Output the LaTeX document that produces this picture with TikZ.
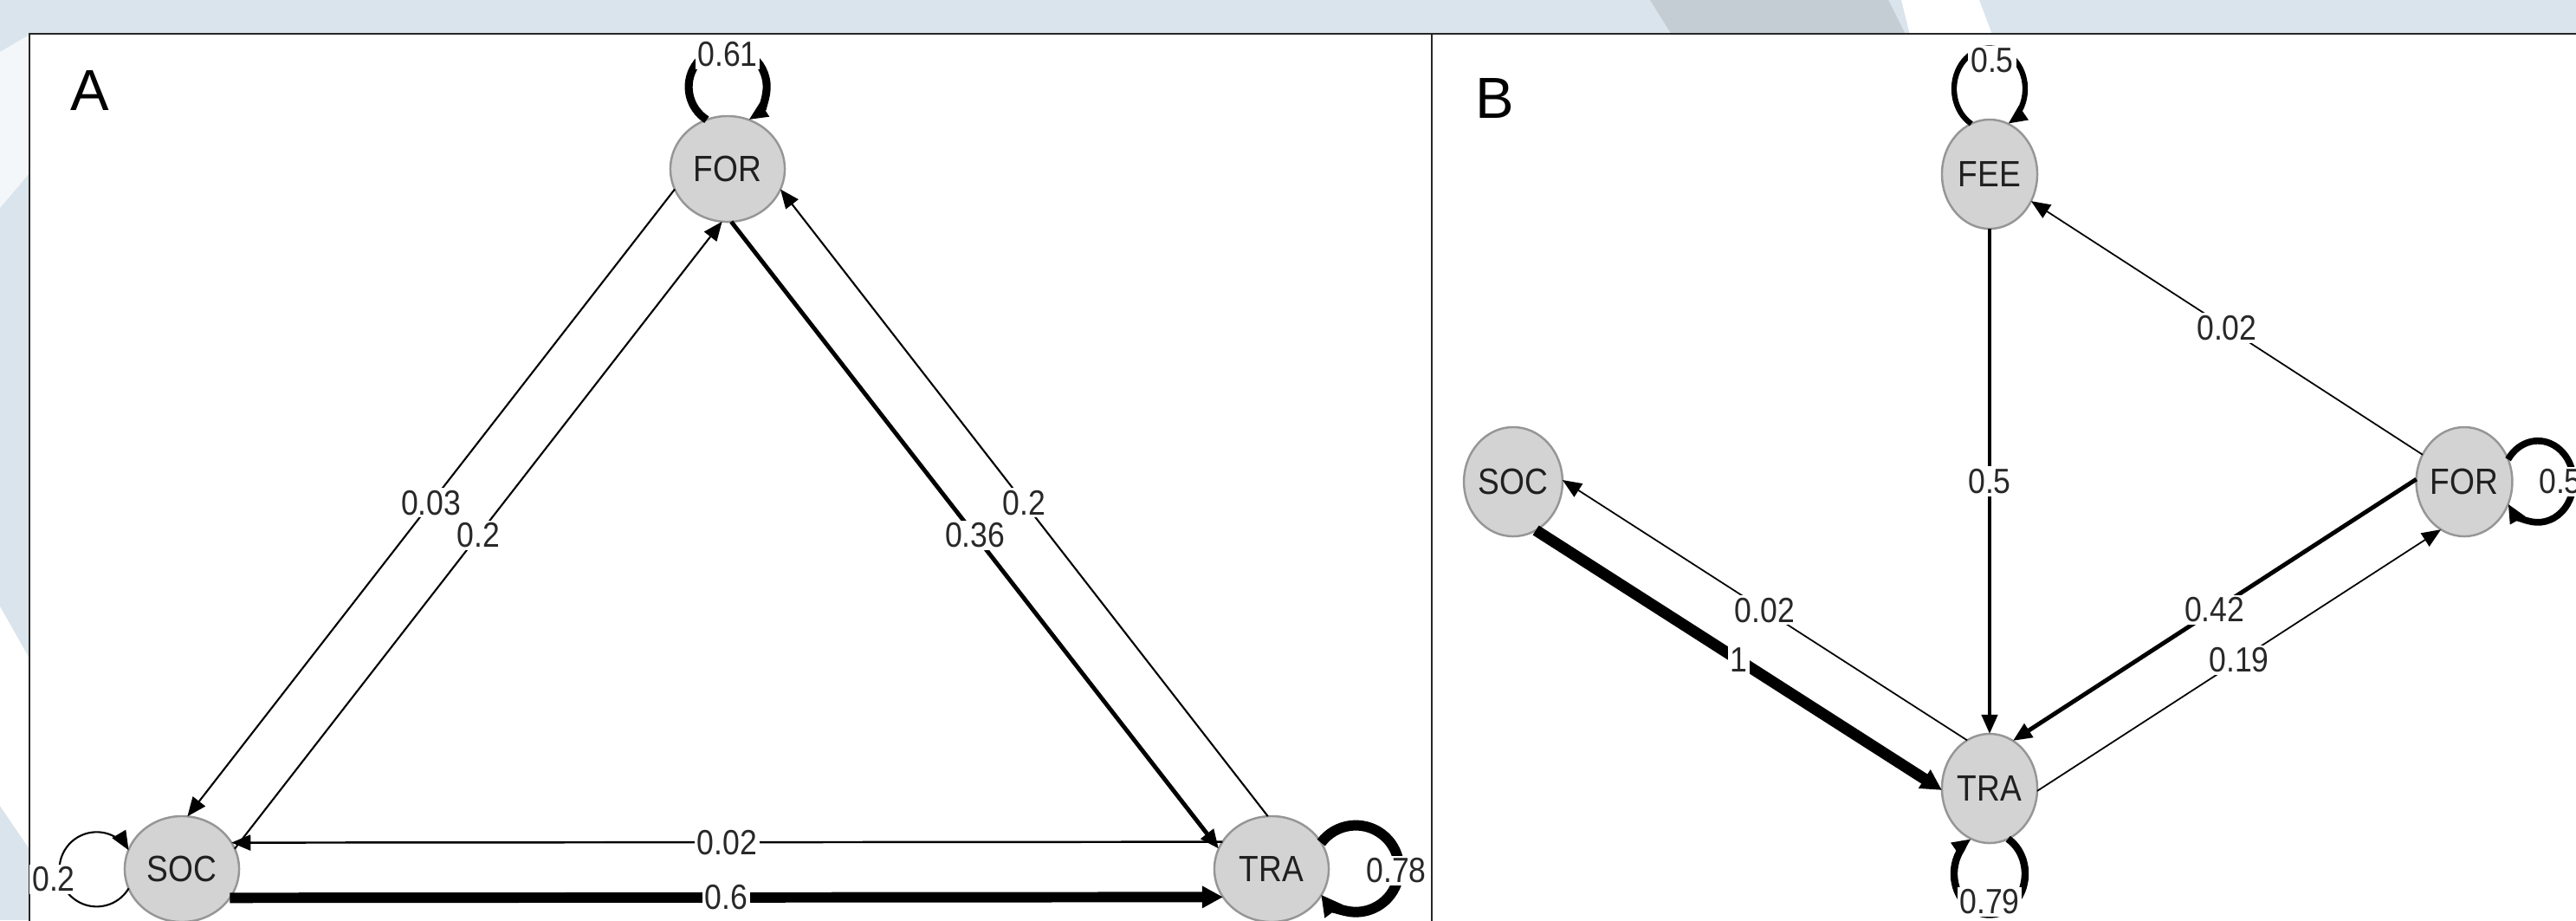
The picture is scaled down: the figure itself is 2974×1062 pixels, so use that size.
\documentclass[tikz,border=0pt]{standalone}
\usepackage{fontspec}
\setmainfont{Liberation Sans}
\newfontfamily\nfont[FakeStretch=0.88]{Liberation Sans}
\usetikzlibrary{arrows.meta,shapes.geometric}
\definecolor{bgblue}{RGB}{218,228,236}
\definecolor{bgdark}{RGB}{196,204,212}
\definecolor{nodefill}{RGB}{211,211,211}
\definecolor{nodeborder}{RGB}{150,150,150}
\definecolor{nodetext}{RGB}{32,32,32}
\definecolor{labeltext}{RGB}{40,40,40}
\tikzset{
  vtx/.style={ellipse, draw=nodeborder, fill=nodefill, line width=0.7pt, inner sep=0pt, outer sep=0pt,
              font=\nfont\fontsize{12}{14}\selectfont, text=nodetext},
  vtxA/.style={vtx, minimum width=1.32cm, minimum height=1.22cm},
  vtxB/.style={vtx, minimum width=1.10cm, minimum height=1.26cm},
  lbl/.style={fill=white, inner sep=0.8pt, font=\nfont\fontsize{11.5}{13}\selectfont, text=labeltext},
  edg/.style={draw=black, -{Triangle[length=0.22cm, width=0.18cm]}},
  edgthick/.style={draw=black, -{Triangle[length=0.24cm, width=0.24cm]}},
  panellbl/.style={font=\fontsize{19}{22}\selectfont, text=black, inner sep=0pt},
  frame/.style={draw=black!85, line width=0.7pt}
}
\begin{document}
\begin{tikzpicture}[x=0.01cm, y=0.01cm]
\useasboundingbox (0,0) rectangle (2974,-1062);
\clip (0,0) rectangle (2974,-1062);
% background
\fill[bgblue] (0,0) rectangle (2974,-1062);
\fill[bgdark] (1905,0) -- (2180,0) -- (2200,-40) -- (1930,-40) -- cycle;
\fill[white] (2195,0) -- (2285,0) -- (2300,-40) -- (2205,-40) -- cycle;
\fill[white!70!bgblue] (0,-60) -- (34,-40) -- (34,-200) -- (0,-240) -- cycle;
\fill[white] (0,-700) -- (34,-760) -- (34,-980) -- (0,-930) -- cycle;
% panels
\fill[white] (34,-39) rectangle (1653,-1080);
\fill[white] (1653,-39) rectangle (3000,-1080);
\draw[frame] (34,-1080) -- (34,-39) -- (1653,-39) -- (1653,-1080);
\draw[frame] (1653,-39) -- (3000,-39);
\node[panellbl] (labA) at (104,-104) {A};
\node[panellbl] (labB) at (1726,-113) {B};

% ---------- Panel A ----------
\node[vtxA] (FORa) at (840,-195) {FOR};
\node[vtxA] (SOCa) at (210,-1003) {SOC};
\node[vtxA] (TRAa) at (1468,-1003) {TRA};

\draw[edg, line width=0.6pt] (FORa.201.7) -- node[lbl] (e1) {0.03} (SOCa.84.7);
\draw[edg, line width=0.6pt] (SOCa.21.7) -- node[lbl] (e2) {0.2} (FORa.264.7);
\draw[edg, line width=1.4pt] (FORa.274) -- node[lbl] (e3) {0.36} (TRAa.159.2);
\draw[edg, line width=0.6pt] (TRAa.94) -- node[lbl] (e4) {0.2} (FORa.339.2);
\draw[edg, line width=0.7pt] (TRAa.151.4) -- node[lbl] (e5) {0.02} (SOCa.28.6);
\draw[edgthick, line width=3.4pt] (SOCa.329.3) -- node[lbl] (e6) {0.6} (TRAa.210.7);

\draw[edg, line width=2.6pt] (FORa.113) arc[start angle=237.4, end angle=-57.4, radius=0.45cm];
\node[lbl] (l1) at (840,-63) {0.61};
\draw[edgthick, line width=3.4pt] (TRAa.28) arc[start angle=143.1, end angle=-143.1, radius=0.5cm];
\node[lbl] (l2) at (1612,-1005) {0.78};
\draw[edg, line width=0.6pt] (SOCa.200) arc[start angle=-30.8, end angle=-329.2, radius=0.43cm];
\node[lbl] (l3) at (62,-1015) {0.2};

% ---------- Panel B ----------
\node[vtxB] (FEE) at (2297,-201) {FEE};
\node[vtxB] (SOCb) at (1747,-556) {SOC};
\node[vtxB] (FORb) at (2845,-556) {FOR};
\node[vtxB] (TRAb) at (2297,-910) {TRA};

\draw[edg, line width=1.2pt] (FEE.270) -- node[lbl] (f1) {0.5} (TRAb.90);
\draw[edg, line width=0.5pt] (FORb.147.1) -- node[lbl] (f2) {0.02} (FEE.327.1);
\draw[edg, line width=0.5pt] (TRAb.115.7) -- node[lbl] (f3) {0.02} (SOCb.2.8);
\draw[edgthick, line width=3.7pt] (SOCb.295.7) -- node[lbl] (f4) {1} (TRAb.182.8);
\draw[edg, line width=1.4pt] (FORb.177.3) -- node[lbl] (f5) {0.42} (TRAb.64.4);
\draw[edg, line width=0.5pt] (TRAb.357.3) -- node[lbl] (f6) {0.19} (FORb.244.4);

\draw[edg, line width=1.8pt] (FEE.110) arc[start angle=238.9, end angle=-58.9, x radius=0.41cm, y radius=0.47cm];
\node[lbl] (m1) at (2300,-70) {0.5};
\draw[edg, line width=2.2pt] (FORb.27) arc[start angle=147, end angle=-147, x radius=0.41cm, y radius=0.47cm];
\node[lbl] (m2) at (2956,-556) {0.5};
\draw[edg, line width=2.4pt] (TRAb.290) arc[start angle=58.9, end angle=-238.9, x radius=0.41cm, y radius=0.47cm];
\node[lbl] (m3) at (2297,-1041) {0.79};
\end{tikzpicture}
\end{document}
